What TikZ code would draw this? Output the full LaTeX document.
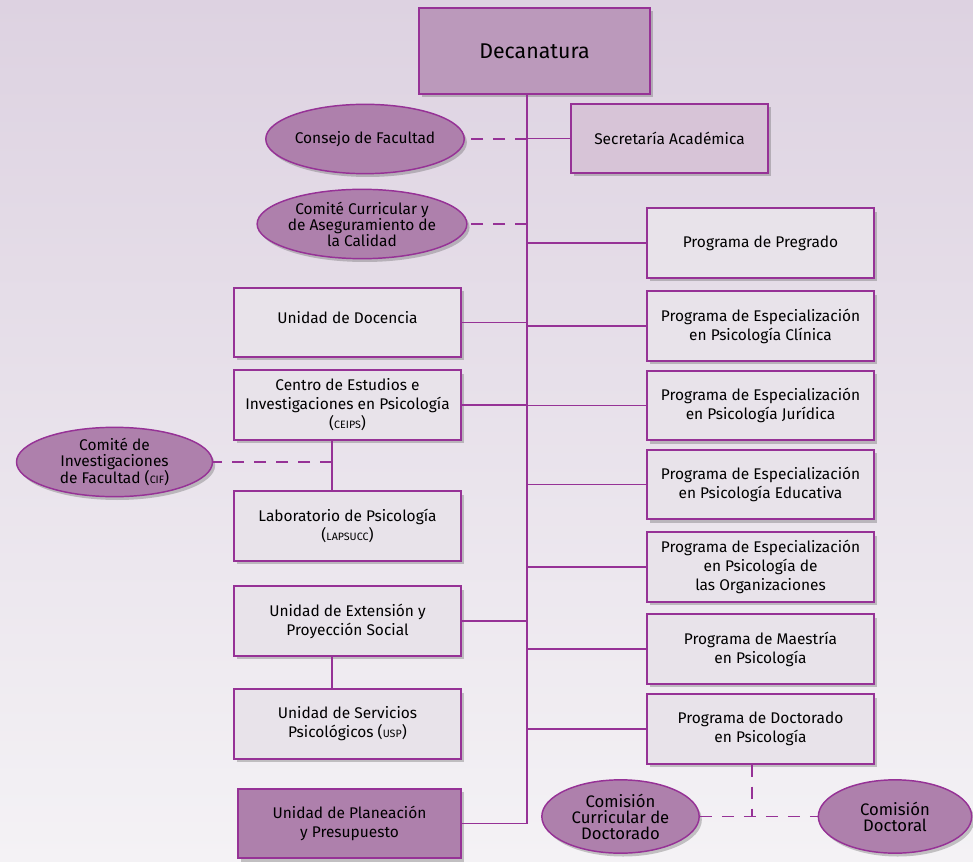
\documentclass[tikz,border=0pt]{standalone}
\usepackage{fontspec}
\setmainfont{Fira Sans}
\usetikzlibrary{shapes.geometric, shadows}
\definecolor{linea}{RGB}{150,50,150}
\definecolor{cajaclara}{RGB}{232,227,234}
\definecolor{malva}{RGB}{174,128,172}
\definecolor{malvadec}{RGB}{187,153,187}
\definecolor{malvasec}{RGB}{215,196,215}
\definecolor{fondoA}{RGB}{221,210,225}
\definecolor{fondoB}{RGB}{244,242,245}
\tikzset{
  sombra/.style={drop shadow={shadow xshift=2pt, shadow yshift=-2.5pt, opacity=.3, fill=black!70}},
  caja/.style={draw=linea, line width=1.3pt, fill=cajaclara, minimum width=170pt, minimum height=52pt,
    align=center, inner sep=2pt, font=\fontsize{11.6}{14.25}\selectfont, sombra},
  elipse/.style={ellipse, draw=linea, line width=1.1pt, fill=malva, minimum width=147pt, minimum height=52pt,
    inner sep=0pt, align=center, font=\fontsize{11.6}{12}\selectfont, sombra},
  enlace/.style={draw=linea, line width=1.1pt},
  discont/.style={enlace, dash pattern=on 9pt off 7.5pt},
}
\newcommand{\sigla}[1]{{\fontsize{8}{10}\selectfont #1}}

\begin{document}
\begin{tikzpicture}[x=0.75pt, y=-0.75pt]
  \shade[top color=fondoA, bottom color=fondoB] (0,0) rectangle (973,862);

  % cabeza
  \node[caja, fill=malvadec, minimum width=173pt, minimum height=64.5pt, font=\fontsize{16}{18}\selectfont] (DEC) at (534.5,51) {Decanatura};
  \node[caja, fill=malvasec, minimum width=148pt] (SEC) at (669.5,138.5) {Secretaría Académica};
  \node[elipse] (CONSEJO) at (365,139) {Consejo de Facultad};
  \node[elipse] (CURRIC) at (362,224) {Comité Curricular y\\de Aseguramiento de\\la Calidad};

  % unidades
  \node[caja] (DOC) at (347.5,322.5) {Unidad de Docencia\\[-6pt]\mbox{}};
  \node[caja] (CEIPS) at (347.5,405) {Centro de Estudios e\\Investigaciones en Psicología\\(\sigla{CEIPS})};
  \node[elipse] (CIF) at (114.5,462) {Comité de\\Investigaciones\\de Facultad (\sigla{CIF})};
  \node[caja] (LAB) at (347.5,526) {Laboratorio de Psicología\\(\sigla{LAPSUCC})};
  \node[caja] (EXT) at (347.5,621) {Unidad de Extensión y\\Proyección Social};
  \node[caja] (USP) at (347.5,724) {Unidad de Servicios\\Psicológicos (\sigla{USP})};
  \node[caja, fill=malva, minimum width=167pt] (PLAN) at (349.5,823.5) {Unidad de Planeación\\y Presupuesto};

  % programas
  \node[caja] (PRE) at (760.5,243) {Programa de Pregrado};
  \node[caja] (CLIN) at (760.5,326) {Programa de Especialización\\en Psicología Clínica};
  \node[caja] (JUR) at (760.5,405.5) {Programa de Especialización\\en Psicología Jurídica};
  \node[caja] (EDU) at (760.5,484.5) {Programa de Especialización\\en Psicología Educativa};
  \node[caja] (ORG) at (760.5,567) {Programa de Especialización\\en Psicología de\\las Organizaciones};
  \node[caja] (MAE) at (760.5,649) {Programa de Maestría\\en Psicología};
  \node[caja] (DOCT) at (760.5,729) {Programa de Doctorado\\en Psicología};
  \node[elipse, minimum width=118pt, minimum height=55pt, font=\fontsize{12.5}{12}\selectfont] (COMCUR) at (620.5,816.5) {Comisión\\Curricular de\\Doctorado};
  \node[elipse, minimum width=115pt, minimum height=55pt, font=\fontsize{12.5}{12}\selectfont] (COMDOC) at (895,816.5) {Comisión\\Doctoral};

  % tronco
  \coordinate (TRONCO) at (527,94);
  \coordinate (EJE) at (332,0);
  \coordinate (CRUCE) at (752,816.5);
  \draw[enlace] (TRONCO) -- (TRONCO |- PLAN.east) -- (PLAN.east);
  \draw[enlace] (TRONCO |- SEC.west) -- (SEC.west);
  \foreach \n in {DOC, CEIPS, EXT}
    \draw[enlace] (\n.east) -- (\n.east -| TRONCO);
  \foreach \n in {PRE, CLIN, JUR, EDU, ORG, MAE, DOCT}
    \draw[enlace] (\n.west) -- (\n.west -| TRONCO);
  \draw[enlace] (CEIPS.south -| EJE) -- (LAB.north -| EJE);
  \draw[enlace] (EXT.south -| EJE) -- (USP.north -| EJE);

  % discontinuas
  \draw[discont] (TRONCO |- CONSEJO.east) -- (CONSEJO.east);
  \draw[discont] (TRONCO |- CURRIC.east) -- (CURRIC.east);
  \draw[discont] (CIF.east -| EJE) -- (CIF.east);
  \draw[discont] (DOCT.south -| CRUCE) -- (CRUCE);
  \draw[discont] (COMCUR.east) -- (COMDOC.west);
\end{tikzpicture}
\end{document}
